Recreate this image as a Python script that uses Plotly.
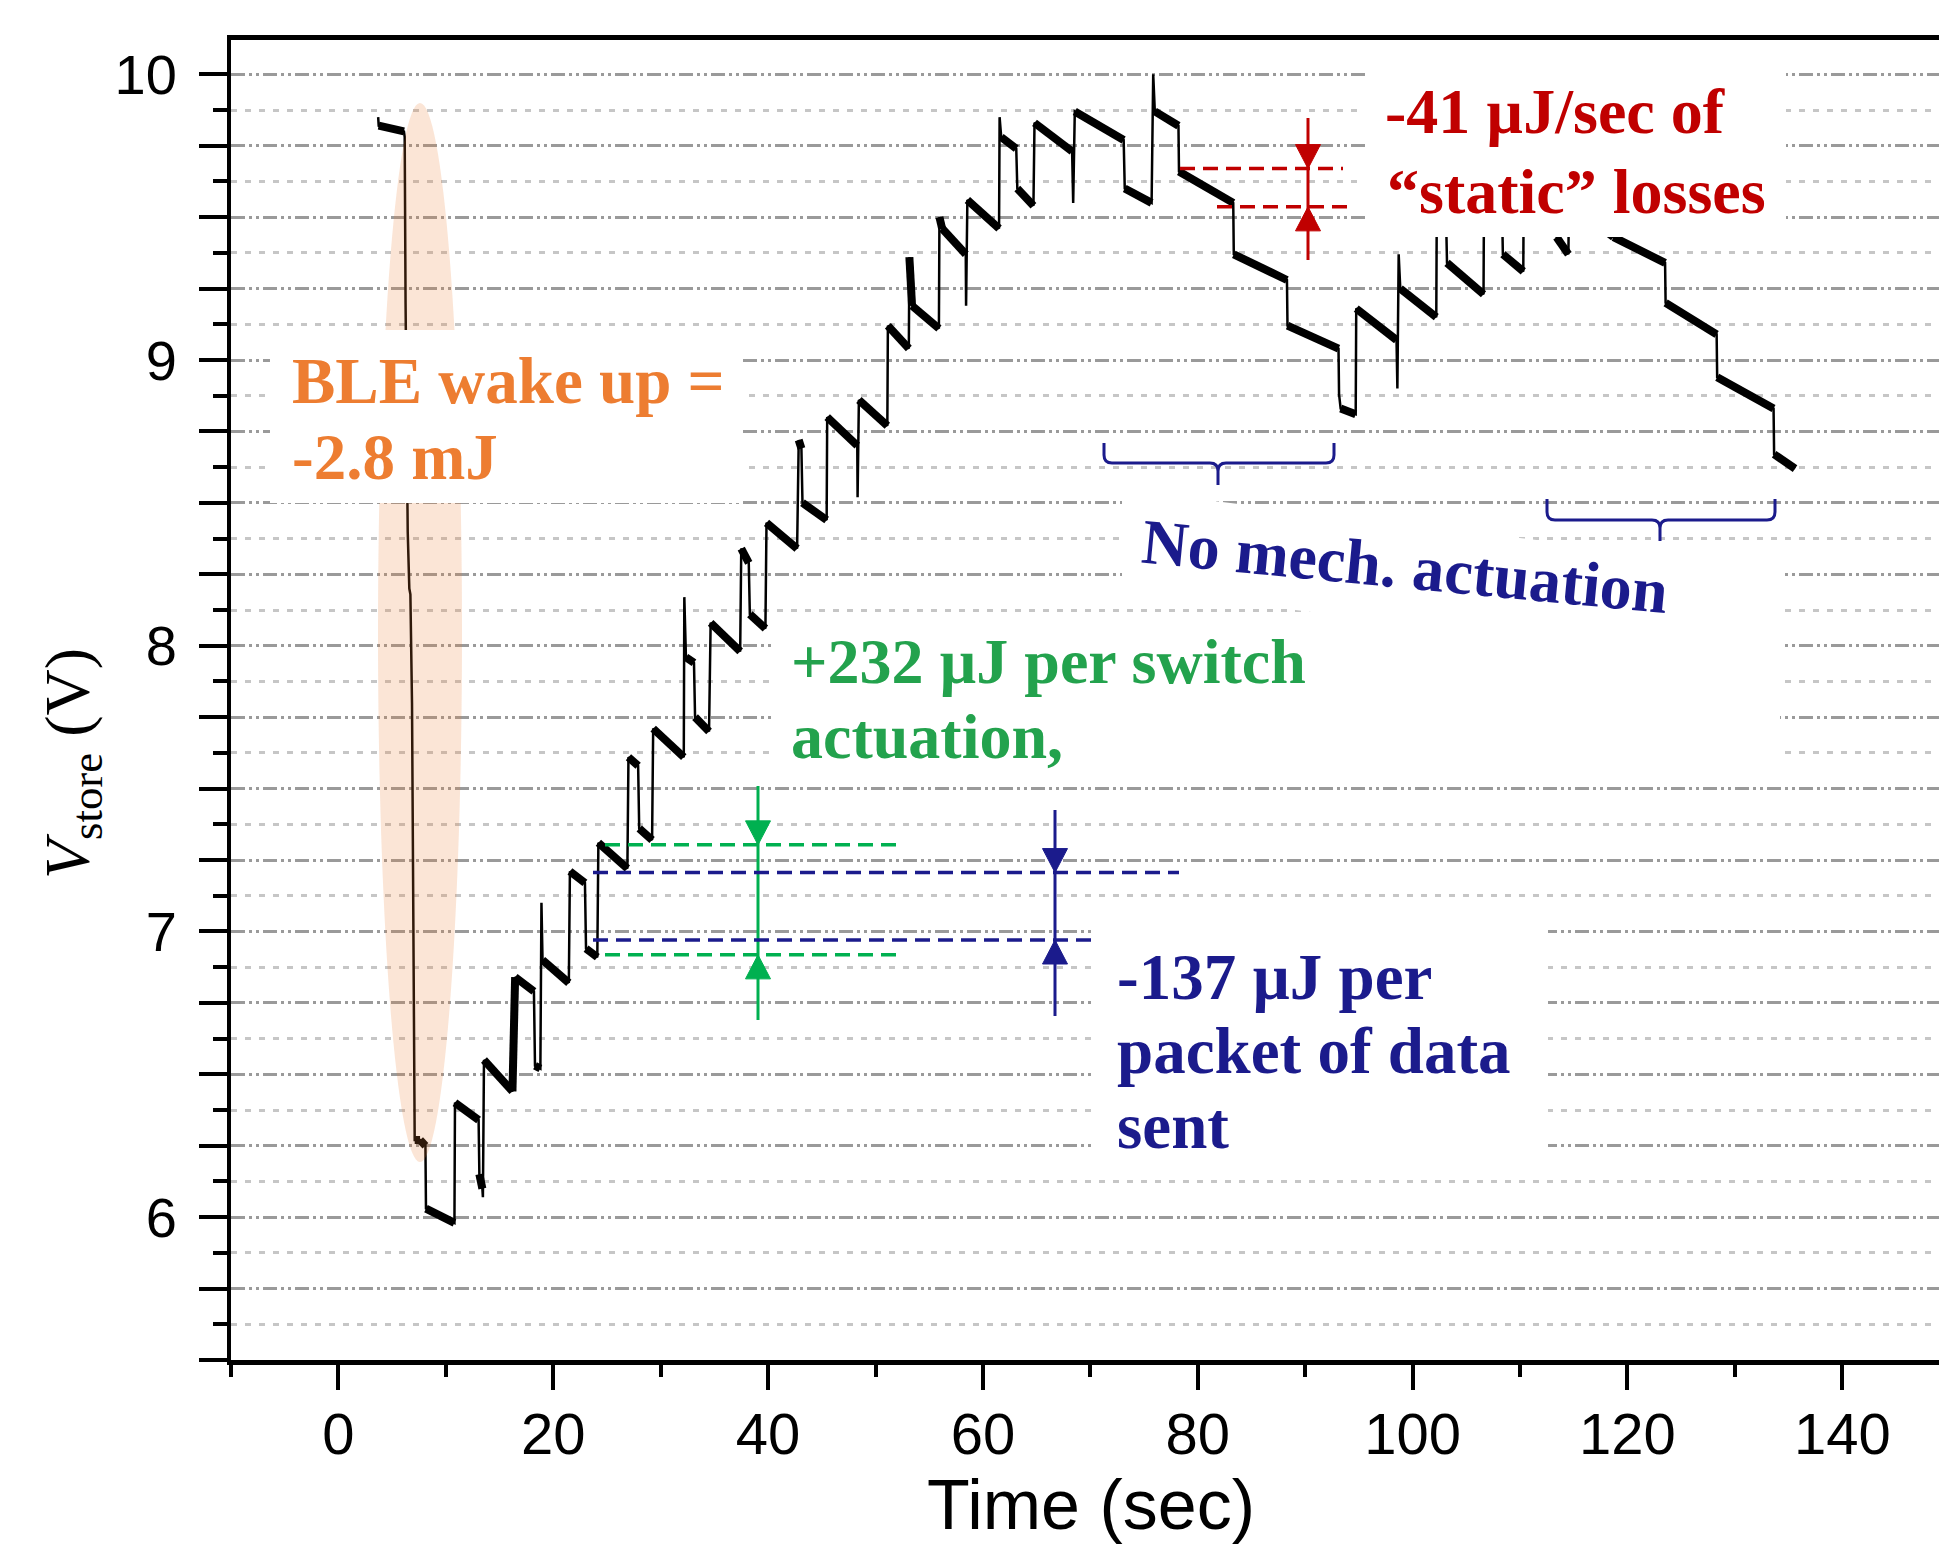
import plotly.graph_objects as go

# ---------------- data ----------------
# V_store trace, wake-up phase
t_wake = [3.70, 3.75, 6.10, 6.17, 6.25, 6.35, 6.45, 6.60, 6.70, 6.85, 6.95, 7.05, 7.10, 7.60, 8.10, 8.15, 10.80]
v_wake = [9.85, 9.82, 9.80, 9.78, 9.20, 8.80, 8.40, 8.20, 8.18, 7.80, 7.20, 6.28, 6.27, 6.27, 6.25, 6.03, 5.98]

# charging phase (switch actuations + packets)
t_charge = [10.85, 13.05, 13.12, 13.40, 13.45, 13.55, 16.20, 16.45, 18.20, 18.30, 18.80, 18.90, 19.00, 21.45,
            21.55, 22.95, 23.05, 24.10, 24.20, 26.90, 27.00, 27.90, 28.00, 29.20, 29.30, 32.15, 32.20, 32.35,
            33.10, 33.20, 34.50, 34.65, 37.40, 37.50, 38.20, 38.30, 39.75, 39.85, 42.70, 42.85, 43.10, 43.20,
            45.45, 45.50, 48.30, 48.33, 48.45, 51.10, 51.15, 53.10, 53.15, 53.40, 55.90, 55.95, 56.20, 58.40,
            58.43, 58.55, 61.50, 61.55, 61.70, 63.10, 63.20, 64.70, 64.80, 68.30, 68.40, 68.55, 73.10, 73.20,
            75.70, 75.85, 76.00, 78.20]
v_charge = [6.40, 6.34, 6.15, 6.10, 6.07, 6.55, 6.44, 6.84, 6.79, 6.53, 6.52, 7.10, 6.90, 6.82,
            7.21, 7.17, 6.94, 6.91, 7.31, 7.22, 7.61, 7.58, 7.36, 7.32, 7.71, 7.61, 8.17, 7.96,
            7.94, 7.75, 7.70, 8.08, 7.98, 8.34, 8.29, 8.11, 8.06, 8.43, 8.34, 8.72, 8.69, 8.50,
            8.44, 8.80, 8.70, 8.52, 8.86, 8.77, 9.12, 9.04, 9.36, 9.19, 9.11, 9.50, 9.46, 9.37,
            9.19, 9.56, 9.46, 9.85, 9.78, 9.74, 9.60, 9.54, 9.83, 9.73, 9.55, 9.87, 9.77, 9.60,
            9.55, 10.00, 9.87, 9.82]

# discharging phase (static losses, few actuations)
t_discharge = [78.25, 83.30, 83.35, 88.30, 88.35, 93.10, 93.15, 93.30, 94.70, 94.75, 98.50, 98.58, 98.70,
               98.85, 102.20, 102.25, 103.10, 103.20, 106.60, 106.65, 108.30, 108.40, 110.30, 110.35,
               113.30, 113.40, 114.50, 114.55, 118.70, 123.50, 123.55, 128.30, 128.35, 133.60, 133.65, 135.60]
v_discharge = [9.66, 9.55, 9.37, 9.28, 9.12, 9.04, 8.88, 8.83, 8.81, 9.18, 9.07, 8.90, 9.37,
               9.25, 9.15, 9.55, 9.52, 9.34, 9.23, 9.62, 9.58, 9.37, 9.31, 9.66,
               9.60, 9.43, 9.37, 9.55, 9.43, 9.34, 9.20, 9.09, 8.94, 8.83, 8.67, 8.62]

x_tick_vals = [0, 20, 40, 60, 80, 100, 120, 140]
y_label_vals = [6, 7, 8, 9, 10]

# annotation levels (V)
switch_levels = [6.918, 7.303]      # green dashed
packet_levels = [6.970, 7.206]      # navy dashed
static_levels = [9.536, 9.670]      # red dashed

time_s = t_wake + t_charge + t_discharge
v_store = v_wake + v_charge + v_discharge

# ---------------- geometry ----------------
W, H = 1939, 1546
L, R, T, B = 231, 0, 40, 186
X_RANGE = [-10, 149]
Y_RANGE = [5.5, 10.12]
PW, PH = W - L - R, H - T - B
XS = PW / (X_RANGE[1] - X_RANGE[0])
YS = PH / (Y_RANGE[1] - Y_RANGE[0])


def x_of(px):
    return X_RANGE[0] + (px - L) / XS


def y_of(py):
    return Y_RANGE[0] + (H - B - py) / YS


def xp(px):
    return (px - L) / PW


def yp(py):
    return (H - B - py) / PH


ORANGE = "#ED7D31"
RED = "#C00000"
GREEN_T = "#23A24D"
GREEN_L = "#00B050"
NAVY = "#1B1B8C"
SERIF = "Liberation Serif, Times New Roman, serif"
SANS = "Liberation Sans, Arial, sans-serif"

fig = go.Figure()
fig.add_trace(go.Scatter(x=time_s, y=v_store, mode="lines",
                         line=dict(color="black", width=2.5), hoverinfo="skip", showlegend=False))
# noisy plateaus appear as thick bands
bx, by = [], []
for i in range(len(time_s) - 1):
    if time_s[i + 1] - time_s[i] >= 0.25:
        bx += [time_s[i], time_s[i + 1], None]
        by += [v_store[i], v_store[i + 1], None]
fig.add_trace(go.Scatter(x=bx, y=by, mode="lines",
                         line=dict(color="black", width=8), hoverinfo="skip", showlegend=False))

shapes = []
# highlight ellipse around the BLE wake-up drop
shapes.append(dict(type="circle", xref="x", yref="y", x0=x_of(378), x1=x_of(462), y0=y_of(1162), y1=y_of(103),
                   fillcolor=ORANGE, opacity=0.2, line=dict(width=0), layer="above"))
# white text backgrounds
for (a, b, c, d) in [(270, 330, 742, 503), (1365, 50, 1786, 237), (773, 628, 1780, 772), (1095, 915, 1548, 1165)]:
    shapes.append(dict(type="rect", xref="x", yref="y", x0=x_of(a), x1=x_of(c), y0=y_of(d), y1=y_of(b),
                       fillcolor="white", line=dict(width=0), layer="above"))
poly = [(1122, 490), (1785, 570), (1785, 672), (1122, 588)]
path = "M " + " L ".join(f"{x_of(px)},{y_of(py)}" for px, py in poly) + " Z"
shapes.append(dict(type="path", xref="x", yref="y", path=path, fillcolor="white", line=dict(width=0), layer="above"))


def hdash(y, x0, x1, color):
    shapes.append(dict(type="line", xref="x", yref="y", x0=x0, x1=x1, y0=y, y1=y,
                       line=dict(color=color, width=3.5, dash="15px,8px"), layer="above"))


def vline(x, y0, y1, color):
    shapes.append(dict(type="line", xref="x", yref="y", x0=x, x1=x, y0=y0, y1=y1,
                       line=dict(color=color, width=3), layer="above"))


def tri(x, ytip, down, color):
    hw = 12.5 / XS
    hh = 24 / YS
    yb = ytip + hh if down else ytip - hh
    p = f"M {x - hw},{yb} L {x + hw},{yb} L {x},{ytip} Z"
    shapes.append(dict(type="path", xref="x", yref="y", path=p, fillcolor=color,
                       line=dict(color=color, width=1), layer="above"))


# green: +232 uJ per switch actuation
hdash(switch_levels[1], x_of(605), x_of(903), GREEN_L)
hdash(switch_levels[0], x_of(605), x_of(903), GREEN_L)
gx = x_of(758)
vline(gx, y_of(786), y_of(1020), GREEN_L)
tri(gx, switch_levels[1], True, GREEN_L)
tri(gx, switch_levels[0], False, GREEN_L)
# navy: -137 uJ per packet
hdash(packet_levels[1], x_of(593), x_of(1179), NAVY)
hdash(packet_levels[0], x_of(593), x_of(1097), NAVY)
nx = x_of(1055)
vline(nx, y_of(810), y_of(1016), NAVY)
tri(nx, packet_levels[1], True, NAVY)
tri(nx, packet_levels[0], False, NAVY)
# red: static losses
hdash(static_levels[1], x_of(1180), x_of(1343), RED)
hdash(static_levels[0], x_of(1217), x_of(1353), RED)
rx = x_of(1308)
vline(rx, y_of(118), y_of(260), RED)
tri(rx, static_levels[1], True, RED)
tri(rx, static_levels[0], False, RED)


def brace(xl, xr, ytop, yh, xt, ytip, r=8):
    pts = [
        f"M {x_of(xl)},{y_of(ytop)}", f"L {x_of(xl)},{y_of(yh - r)}",
        f"Q {x_of(xl)},{y_of(yh)} {x_of(xl + r)},{y_of(yh)}", f"L {x_of(xt - r)},{y_of(yh)}",
        f"Q {x_of(xt)},{y_of(yh)} {x_of(xt)},{y_of(yh + r)}", f"L {x_of(xt)},{y_of(ytip)}",
        f"M {x_of(xt)},{y_of(yh + r)}", f"Q {x_of(xt)},{y_of(yh)} {x_of(xt + r)},{y_of(yh)}",
        f"L {x_of(xr - r)},{y_of(yh)}", f"Q {x_of(xr)},{y_of(yh)} {x_of(xr)},{y_of(yh - r)}",
        f"L {x_of(xr)},{y_of(ytop)}",
    ]
    shapes.append(dict(type="path", xref="x", yref="y", path=" ".join(pts),
                       line=dict(color=NAVY, width=3), layer="above"))


brace(1104, 1334, 443, 463, 1218, 485)
brace(1547, 1775, 499, 520, 1660, 541)

annotations = []


def text(s, px, baseline, color, size=64, xanchor="left", angle=0):
    annotations.append(dict(text=s, xref="paper", yref="paper", x=xp(px), y=yp(baseline - 0.3375 * size),
                            xanchor=xanchor, yanchor="middle", showarrow=False, textangle=angle,
                            font=dict(family=SERIF, size=size, color=color)))


text("<b>BLE wake up =</b>", 290, 403, ORANGE, size=65)
text("<b>-2.8 mJ</b>", 290, 479, ORANGE, size=65)
text("<b>-41 µJ/sec of</b>", 1383, 133, RED)
text("<b>“static” losses</b>", 1385, 213, RED)
text("<b>+232 µJ per switch</b>", 789, 683, GREEN_T, size=64)
text("<b>actuation,</b>", 789, 758, GREEN_T, size=64)
text("<b>-137 µJ per</b>", 1115, 999, NAVY, size=65)
text("<b>packet of data</b>", 1115, 1073, NAVY, size=65)
text("<b>sent</b>", 1115, 1148, NAVY, size=65)
text("<b>No mech. actuation</b>", 1405, 588, NAVY, size=64, xanchor="center", angle=5.5)

# axis titles
annotations.append(dict(text="Time (sec)", xref="paper", yref="paper", x=xp(1091), y=yp(1505),
                        xanchor="center", yanchor="middle", showarrow=False,
                        font=dict(family=SANS, size=70, color="black")))
annotations.append(dict(text="<i>V</i><sub>store</sub> (V)", xref="paper", yref="paper", x=xp(72), y=yp(764),
                        xanchor="center", yanchor="middle", showarrow=False, textangle=-90,
                        font=dict(family=SERIF, size=64, color="black")))

y_major = [Y_RANGE[0] + 0.25 * k for k in range(19)]
y_text = [str(int(v)) if v in y_label_vals else "" for v in y_major]
y_minor = [v + 0.125 for v in y_major if v + 0.125 < Y_RANGE[1]]
x_minor = [v for v in range(-10, 150, 20)]

fig.update_layout(
    width=W, height=H, autosize=False,
    margin=dict(l=L, r=R, t=T, b=B),
    paper_bgcolor="white", plot_bgcolor="white",
    showlegend=False,
    shapes=shapes, annotations=annotations,
    xaxis=dict(range=X_RANGE, tickmode="array", tickvals=x_tick_vals, ticks="outside", ticklen=25,
               tickwidth=4, tickcolor="black", showline=True, linewidth=5, linecolor="black", mirror=True,
               showgrid=False, zeroline=False, ticklabelstandoff=-6,
               tickfont=dict(family=SANS, size=58, color="black"),
               minor=dict(tickmode="array", tickvals=x_minor, ticks="outside", ticklen=12, tickwidth=4,
                          tickcolor="black", showgrid=False)),
    yaxis=dict(range=Y_RANGE, tickmode="array", tickvals=y_major, ticktext=y_text, ticks="outside",
               ticklen=28, tickwidth=4, tickcolor="black", showline=True, linewidth=4, linecolor="black",
               showgrid=True, gridcolor="#9a9a9a", gridwidth=2.5, griddash="14px,4px,3px,4px,3px,4px",
               zeroline=False, ticklabelstandoff=11,
               tickfont=dict(family=SANS, size=56, color="black"),
               minor=dict(tickmode="array", tickvals=y_minor, ticks="outside", ticklen=14, tickwidth=4,
                          tickcolor="black", showgrid=True, gridcolor="#c6c6c6", gridwidth=2.5,
                          griddash="6px,8px")),
)

fig.write_html("out.html", config={"displayModeBar": False},
               post_script="document.body.style.margin='0';document.body.style.overflow='hidden';")
